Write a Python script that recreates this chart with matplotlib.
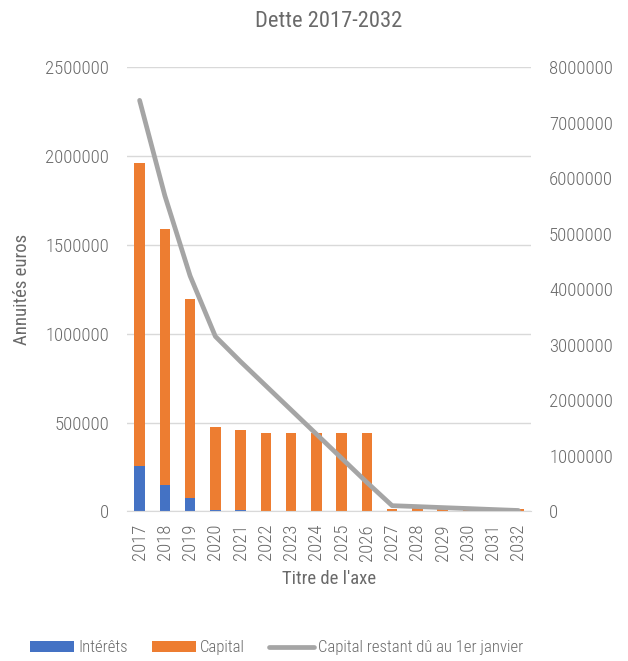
import matplotlib
matplotlib.use("Agg")
import matplotlib.pyplot as plt
from matplotlib.ticker import FuncFormatter
import numpy as np

# Debt schedule 2017-2032
years = [str(y) for y in range(2017, 2033)]
interets = [256000, 151000, 77500, 11000, 6000, 5000, 4000, 3500,
            3000, 2500, 1800, 1500, 1200, 900, 600, 300]
capital = [1705000, 1442000, 1119500, 466000, 450000, 434500, 435500, 436000,
           436500, 437000, 13500, 16000, 16000, 16000, 16000, 16000]
capital_restant = [7408000, 5690000, 4245000, 3155000, 2700000, 2265000,
                   1830000, 1395000, 960000, 525000, 105000, 88000,
                   70000, 53000, 35000, 18000]

BLUE = "#4472C4"
ORANGE = "#ED7D31"
GREY = "#A5A5A5"
TEXT = "#6A6A6A"
GRID = "#D9D9D9"

plt.rcParams["font.family"] = ["Roboto Condensed", "Liberation Sans", "DejaVu Sans"]
plt.rcParams["font.weight"] = "light"
plt.rcParams["font.size"] = 13.5

fig = plt.figure(figsize=(6.28, 6.61), dpi=100)
ax = fig.add_axes([0.2022, 0.2262, 0.6433, 0.6717])
ax2 = ax.twinx()

x = np.arange(len(years))
w = 0.42
ax.bar(x, interets, w, color=BLUE, label="Intérêts", zorder=2)
ax.bar(x, capital, w, bottom=interets, color=ORANGE, label="Capital", zorder=2)
ax2.plot(x, capital_restant, color=GREY, lw=3.4, solid_capstyle="round",
         label="Capital restant dû au 1er janvier", zorder=3)

ax.set_xlim(-0.5, len(years) - 0.5)
ax.set_ylim(0, 2500000)
ax2.set_ylim(0, 8000000)
ax.set_yticks(np.arange(0, 2500001, 500000))
ax2.set_yticks(np.arange(0, 8000001, 1000000))
plain = FuncFormatter(lambda v, _: f"{int(round(v))}")
ax.yaxis.set_major_formatter(plain)
ax2.yaxis.set_major_formatter(plain)
ax.set_xticks(x)
ax.set_xticklabels(years, rotation=90)

ax.yaxis.grid(True, color=GRID, lw=1)
ax.set_axisbelow(True)
for a in (ax, ax2):
    for s in a.spines.values():
        s.set_visible(False)
ax.spines["bottom"].set_visible(True)
ax.spines["bottom"].set_color(GRID)

ax.tick_params(axis="y", length=0, pad=13, colors=TEXT)
ax2.tick_params(axis="y", length=0, pad=13, colors=TEXT)
ax.tick_params(axis="x", length=0, pad=9, colors=TEXT)

ax.set_ylabel("Annuités euros", color=TEXT, labelpad=10)
ax.set_xlabel("Titre de l'axe", color=TEXT, labelpad=7)
ax.set_title("Dette 2017-2032", color=TEXT, pad=29)

h1, l1 = ax.get_legend_handles_labels()
h2, l2 = ax2.get_legend_handles_labels()
fig.legend(h1 + h2, l1 + l2, loc="center", bbox_to_anchor=(0.44, 0.02),
           ncol=3, frameon=False, fontsize=12, handlelength=2.65,
           handleheight=0.65, handletextpad=0.25, columnspacing=1.45,
           labelcolor=TEXT)

fig.savefig("out.png", dpi=100)
